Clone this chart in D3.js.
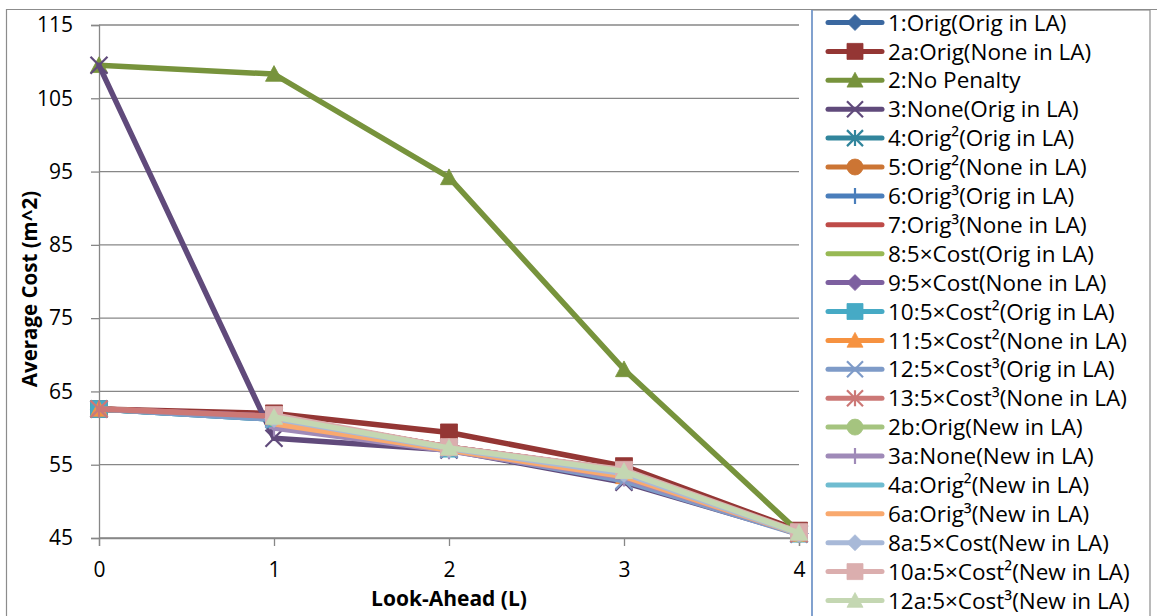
<!DOCTYPE html>
<html>
<head>
<meta charset="utf-8">
<script src="https://cdn.jsdelivr.net/npm/d3@7"></script>
<style>
  html, body { margin: 0; padding: 0; background: #fff; }
  svg { display: block; font-family: "Open Sans", Lato, sans-serif; }
</style>
</head>
<body>
<svg id="chart" width="1157" height="616"></svg>
<script>
// Look-ahead steps on the x axis
const lookAhead = [0, 1, 2, 3, 4];
const yTicks = [45, 55, 65, 75, 85, 95, 105, 115];

// Average cost per strategy (null = no run at that look-ahead)
const s1  = [62.6, 61.3, 57.2, 53.8, 45.6];
const s2a = [62.6, 62.0, 59.4, 54.8, 46.0];
const s2  = [109.5, 108.3, 94.2, 68.0, 45.8];
const s3  = [109.5, 58.6, 57.0, 52.6, 45.6];
const s4  = [62.6, 61.2, 57.2, 53.8, 45.6];
const s5  = [62.6, 61.5, 57.4, 54.2, 45.6];
const s6  = [62.6, 61.3, 57.2, 53.8, 45.6];
const s7  = [62.6, 61.6, 57.4, 54.2, 45.6];
const s8  = [62.6, 61.3, 57.2, 53.8, 45.6];
const s9  = [62.6, 61.6, 57.4, 54.2, 45.6];
const s10 = [62.6, 61.2, 57.2, 53.8, 45.6];
const s11 = [62.6, 61.5, 57.4, 53.4, 45.5];
const s12 = [62.6, 61.2, 57.1, 52.8, 45.5];
const s13 = [62.6, 61.6, 57.4, 54.2, 45.6];
const s2b = [null, 61.4, 57.3, 54.0, 45.6];
const s3a = [null, 60.0, 56.9, 53.2, 45.6];
const s4a = [null, 61.1, 57.1, 53.6, 45.6];
const s6a = [null, 60.6, 57.0, 53.4, 45.6];
const s8a = [null, 61.3, 57.2, 53.8, 45.6];
const s10a = [null, 61.8, 57.4, 54.3, 45.8];
const s12a = [null, 61.5, 57.3, 54.1, 45.7];

const seriesNames = [
  "1:Orig(Orig in LA)", "2a:Orig(None in LA)", "2:No Penalty", "3:None(Orig in LA)",
  "4:Orig²(Orig in LA)", "5:Orig²(None in LA)", "6:Orig³(Orig in LA)", "7:Orig³(None in LA)",
  "8:5×Cost(Orig in LA)", "9:5×Cost(None in LA)", "10:5×Cost²(Orig in LA)", "11:5×Cost²(None in LA)",
  "12:5×Cost³(Orig in LA)", "13:5×Cost³(None in LA)", "2b:Orig(New in LA)", "3a:None(New in LA)",
  "4a:Orig²(New in LA)", "6a:Orig³(New in LA)", "8a:5×Cost(New in LA)", "10a:5×Cost²(New in LA)",
  "12a:5×Cost³(New in LA)"
];
const seriesValues = [s1, s2a, s2, s3, s4, s5, s6, s7, s8, s9, s10, s11, s12, s13,
                      s2b, s3a, s4a, s6a, s8a, s10a, s12a];
const seriesColors = [
  "#3b68a0", "#943634", "#77933c", "#604a7b", "#31859c", "#cc7534",
  "#4a7ebb", "#be4b48", "#98b954", "#7d60a0", "#46aac5", "#f69240",
  "#7e9bc8", "#cc7876", "#a5c47f", "#9f8ab8", "#6fbcd0", "#f9a96e",
  "#a8b9d8", "#dbaeae", "#c4d7b2"
];
const seriesMarkers = [
  "diamond", "square", "triangle", "x", "star", "circle",
  "plus", "none", "none", "diamond", "square", "triangle",
  "x", "star", "circle", "plus", "none", "none",
  "diamond", "square", "triangle"
];

const svg = d3.select("#chart");
const x = d3.scaleLinear().domain([0, 4]).range([99, 799]);
const y = d3.scaleLinear().domain([45, 115]).range([538, 25]);
const grid = "#878787";

// chart frame
svg.append("path")
  .attr("d", "M6.5,620 V9.5 H1160")
  .attr("fill", "none").attr("stroke", "#8c8c8c").attr("stroke-width", 1.2);

// horizontal gridlines
svg.append("g").selectAll("line").data(yTicks).join("line")
  .attr("x1", x(0)).attr("x2", x(4))
  .attr("y1", d => y(d)).attr("y2", d => y(d))
  .attr("stroke", grid).attr("stroke-width", 1.3);

// y axis
const yAxis = svg.append("g").attr("transform", `translate(${x(0)},0)`)
  .call(d3.axisLeft(y).tickValues(yTicks).tickSize(8).tickPadding(18).tickFormat(d3.format("d")));
// x axis
const xAxis = svg.append("g").attr("transform", `translate(0,${y(45)})`)
  .call(d3.axisBottom(x).tickValues(lookAhead).tickSize(8).tickPadding(16).tickFormat(d3.format("d")));

[yAxis, xAxis].forEach(ax => {
  ax.select(".domain").attr("stroke", grid).attr("stroke-width", 1.3);
  ax.selectAll(".tick line").attr("stroke", grid).attr("stroke-width", 1.3);
  ax.selectAll(".tick text").attr("fill", "#000").style("font-size", "21px")
    .style("font-family", "'Open Sans', Lato, sans-serif");
});

// axis titles
svg.append("text")
  .attr("x", 449).attr("y", 606).attr("text-anchor", "middle")
  .style("font-size", "21px").style("font-weight", "bold")
  .text("Look-Ahead (L)");
svg.append("text")
  .attr("transform", "translate(37,289) rotate(-90)")
  .attr("text-anchor", "middle")
  .style("font-size", "20.5px").style("font-weight", "bold")
  .text("Average Cost (m^2)");

// marker shapes
function markerPath(kind, s) {
  const h = s / 2;
  switch (kind) {
    case "diamond": return `M0,${-h}L${h},0L0,${h}L${-h},0Z`;
    case "square": return `M${-h},${-h}H${h}V${h}H${-h}Z`;
    case "triangle": return `M0,${-h}L${h},${h * 0.85}H${-h}Z`;
    case "circle": return d3.symbol(d3.symbolCircle, Math.PI * h * h)();
    case "x": return `M${-h},${-h}L${h},${h}M${h},${-h}L${-h},${h}`;
    case "star": return `M${-h},${-h}L${h},${h}M${h},${-h}L${-h},${h}M0,${-h}V${h}`;
    case "plus": return `M0,${-h}V${h}M${-h * 0.6},0H${h * 0.6}`;
    default: return null;
  }
}
const openKinds = new Set(["x", "star", "plus"]);

function drawMarker(g, kind, color, cx, cy, s) {
  const p = markerPath(kind, s);
  if (!p) return;
  const open = openKinds.has(kind);
  g.append("path").attr("d", p)
    .attr("transform", `translate(${cx},${cy})`)
    .attr("fill", open ? "none" : color)
    .attr("stroke", color)
    .attr("stroke-width", open ? 2.2 : 0.8);
}

// series lines and markers
const line = d3.line()
  .defined(d => d.v != null)
  .x(d => x(d.x)).y(d => y(d.v));

const plot = svg.append("g");
seriesValues.forEach((vals, i) => {
  const pts = vals.map((v, j) => ({ x: lookAhead[j], v }));
  const g = plot.append("g");
  g.append("path").datum(pts)
    .attr("d", line)
    .attr("fill", "none")
    .attr("stroke", seriesColors[i])
    .attr("stroke-width", 5.5)
    .attr("stroke-linejoin", "round")
    .attr("stroke-linecap", "round");
  pts.filter(p => p.v != null).forEach(p => {
    const size = seriesMarkers[i] === "diamond" ? 18 : 17;
    drawMarker(g, seriesMarkers[i], seriesColors[i], x(p.x), y(p.v), size);
  });
});

// legend
const legend = svg.append("g");
legend.append("rect")
  .attr("x", 812).attr("y", 10).attr("width", 338).attr("height", 620)
  .attr("fill", "#fff").attr("stroke", "#8c8c8c").attr("stroke-width", 1.2);
legend.append("line")
  .attr("x1", 812).attr("x2", 812).attr("y1", 10).attr("y2", 616)
  .attr("stroke", "#6f9ad6").attr("stroke-width", 1.5);

seriesNames.forEach((name, i) => {
  const cy = 22.5 + i * 28.9;
  const row = legend.append("g");
  row.append("line")
    .attr("x1", 828).attr("x2", 882).attr("y1", cy).attr("y2", cy)
    .attr("stroke", seriesColors[i]).attr("stroke-width", 5)
    .attr("stroke-linecap", "round");
  drawMarker(row, seriesMarkers[i], seriesColors[i], 855, cy, 16);
  row.append("text")
    .attr("x", 888).attr("y", cy).attr("dy", "0.36em")
    .style("font-size", "22.5px")
    .text(name);
});
</script>
</body>
</html>
